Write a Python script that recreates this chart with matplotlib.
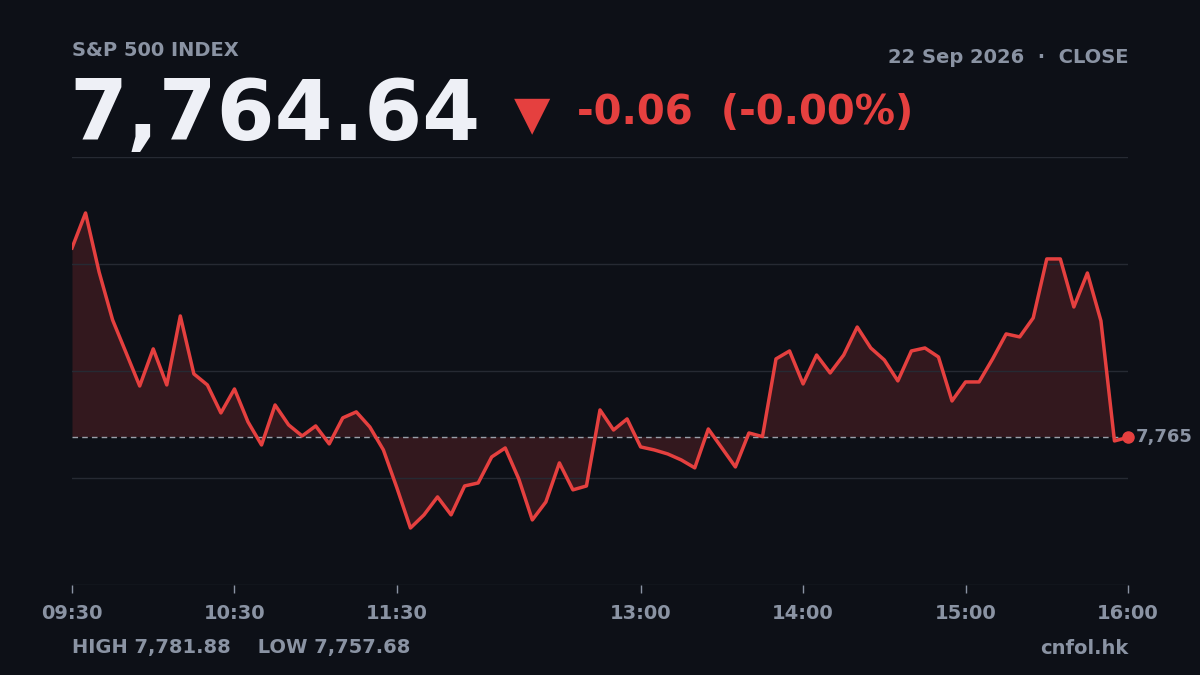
import matplotlib
matplotlib.use("Agg")
import matplotlib.pyplot as plt
import numpy as np

minutes = list(range(0, 391, 5))
values = [7779.19,7781.88,7777.35,7773.66,7771.13,7768.59,7771.44,7768.67,7773.97,7769.52,
          7768.67,7766.52,7768.36,7765.83,7764.06,7767.13,7765.60,7764.75,7765.52,7764.14,
          7766.14,7766.60,7765.44,7763.68,7760.76,7757.68,7758.69,7760.07,7758.69,7760.91,
          7761.14,7763.14,7763.83,7761.45,7758.30,7759.68,7762.68,7760.61,7760.91,7766.75,
          7765.21,7766.06,7763.91,7763.68,7763.37,7762.91,7762.30,7765.29,7763.83,7762.37,
          7764.98,7764.70,7770.67,7771.28,7768.75,7770.97,7769.59,7770.97,7773.12,7771.51,
          7770.59,7768.98,7771.28,7771.51,7770.82,7767.44,7768.90,7768.90,7770.67,7772.59,
          7772.36,7773.82,7778.35,7778.35,7774.66,7777.27,7773.59,7764.37,7764.64]
prev_close = 7764.70
tick_minutes = [0, 60, 120, 210, 270, 330, 390]
tick_labels = ["09:30", "10:30", "11:30", "13:00", "14:00", "15:00", "16:00"]

BG = "#0d1017"; RED = "#e5403f"; GREY = "#8a93a3"; GRID = "#262a33"
fig = plt.figure(figsize=(12, 6.75), dpi=100, facecolor=BG)
ax = fig.add_axes([0.06, 0.1333, 0.88, 0.6341], facecolor=BG)
x = np.array(minutes); y = np.array(values)
ax.fill_between(x, y, prev_close, color=RED, alpha=0.18, lw=0)
ax.plot(x, y, color=RED, lw=2.5, solid_joinstyle="round", zorder=3)
ax.axhline(prev_close, color="#9aa0aa", lw=1, ls=(0, (4, 3)), zorder=2)
ax.plot([x[-1]], [y[-1]], "o", color=RED, ms=8, zorder=4, clip_on=False)
ax.text(x[-1] + 3, prev_close, "7,765", color=GREY, fontsize=13, fontweight="bold", va="center", ha="left")
lo, hi = 7753.3, 7786.18
ax.set_ylim(lo, hi); ax.set_xlim(0, 390)
for g in np.linspace(lo, hi, 5):
    ax.axhline(g, color=GRID, lw=1, zorder=1)
ax.set_yticks([])
ax.set_xticks(tick_minutes); ax.set_xticklabels(tick_labels)
ax.tick_params(axis="x", colors=GREY, labelcolor=GREY, labelsize=14, length=6, width=1, pad=8)
for lab in ax.get_xticklabels(): lab.set_fontweight("bold")
for s in ax.spines.values(): s.set_visible(False)

fig.text(0.06, 0.925, "S&P 500 INDEX", color=GREY, fontsize=14, fontweight="bold", va="center")
fig.text(0.94, 0.915, "22 Sep 2026  ·  CLOSE", color=GREY, fontsize=14, fontweight="bold", va="center", ha="right")
fig.text(0.058, 0.828, "7,764.64", color="#eef0f6", fontsize=60, fontweight="bold", va="center")
fig.text(0.428, 0.828, "▼", color=RED, fontsize=34, va="center")
fig.text(0.481, 0.832, "-0.06  (-0.00%)", color=RED, fontsize=29, fontweight="bold", va="center")
fig.text(0.06, 0.04, "HIGH 7,781.88    LOW 7,757.68", color=GREY, fontsize=14, fontweight="bold", va="center")
fig.text(0.94, 0.04, "cnfol.hk", color=GREY, fontsize=14, fontweight="bold", va="center", ha="right")
fig.savefig("out.png", dpi=100, facecolor=BG)
